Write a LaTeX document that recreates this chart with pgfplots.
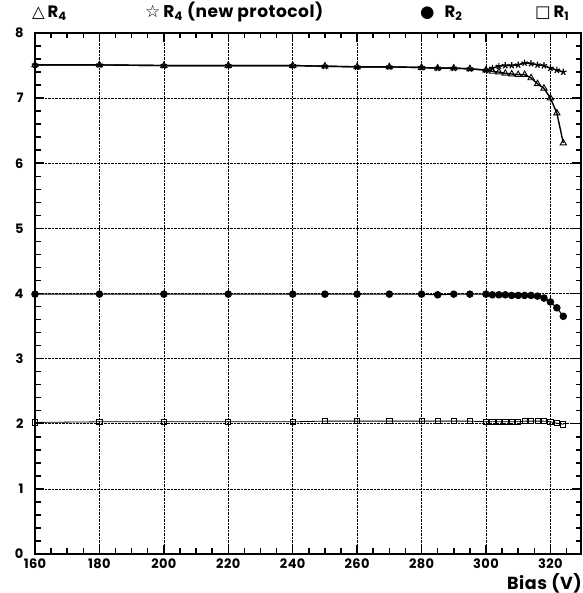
\documentclass[border=0pt]{standalone}
\usepackage{pgfplots}
\pgfplotsset{compat=1.18}
\usepackage{fontspec}
\setmainfont{Poppins}[LetterSpace=3]
\newfontfamily\symfont{DejaVu Sans}
\begin{document}
\begin{tikzpicture}
\useasboundingbox (0,0) rectangle (582pt,593pt);
\begin{axis}[
 at={(35pt,39pt)}, anchor=south west,
 scale only axis, width=546pt, height=521pt,
 xmin=160, xmax=329.5, ymin=0, ymax=8,
 xtick={160,180,...,320}, ytick={0,1,...,8},
 minor x tick num=3, minor y tick num=4,
 tick align=inside, xtick pos=both, ytick pos=both,
 xmajorgrids, ymajorgrids,
 major grid style={densely dotted, black, line width=0.6pt},
 axis line style={line width=1.2pt},
 major tick length=9pt, minor tick length=5.5pt,
 every tick/.append style={black, line width=1.5pt},
 tick label style={font=\bfseries\fontsize{13}{13}\selectfont},
 /pgf/number format/assume math mode=true,
 xticklabel style={yshift=-1pt},
 yticklabel style={xshift=-8pt},
 clip=false,
]
% tick marks (drawn explicitly as well)
\pgfplotsinvokeforeach{165,170,...,325}{
 \draw[black, line width=1.5pt] (axis cs:#1,0) -- ([yshift=5.5pt]axis cs:#1,0);
 \draw[black, line width=1.5pt] (axis cs:#1,8) -- ([yshift=-5.5pt]axis cs:#1,8);
}
\pgfplotsinvokeforeach{0.2,0.4,...,7.9}{
 \draw[black, line width=1.5pt] (axis cs:160,#1) -- ([xshift=5.5pt]axis cs:160,#1);
 \draw[black, line width=1.5pt] (axis cs:329.5,#1) -- ([xshift=-5.5pt]axis cs:329.5,#1);
}
% R1 open squares
\addplot[black, line width=0.8pt, mark=square, mark size=2.6pt, mark options={solid, line width=0.8pt}] coordinates {
(160,2.02) (180,2.03) (200,2.03) (220,2.03) (240,2.03) (250,2.04) (260,2.04) (270,2.04) (280,2.04) (285,2.04) (290,2.04) (295,2.04)
(300,2.03) (302,2.03) (304,2.03) (306,2.03) (308,2.03) (310,2.03) (312,2.04) (314,2.04) (316,2.04) (318,2.04) (320,2.03) (322,2.01) (324,1.99)};
% R2 filled circles
\addplot[black, line width=1.1pt, mark=*, mark size=3.2pt] coordinates {
(160,3.99) (180,3.99) (200,3.99) (220,3.99) (240,3.99) (250,3.99) (260,3.99) (270,3.99) (280,3.99) (285,3.98) (290,3.99) (295,3.99)
(300,3.99) (302,3.98) (304,3.98) (306,3.98) (308,3.97) (310,3.97) (312,3.97) (314,3.97) (316,3.96) (318,3.93) (320,3.87) (322,3.78) (324,3.65)};
% R4 open triangles
\addplot[black, line width=1.4pt, mark=triangle, mark size=3.6pt, mark options={solid, line width=0.9pt}] coordinates {
(160,7.51) (180,7.51) (200,7.50) (220,7.50) (240,7.50) (250,7.49) (260,7.48) (270,7.48) (280,7.47) (285,7.46) (290,7.46) (295,7.45)
(300,7.43) (302,7.41) (304,7.40) (306,7.38) (308,7.37) (310,7.36) (312,7.36) (314,7.31) (316,7.22) (318,7.15) (320,7.00) (322,6.77) (324,6.31)};
% R4 new protocol stars
\addplot[black, line width=1.4pt, mark=star, mark size=3.4pt, mark options={solid, line width=1.2pt}] coordinates {
(160,7.51) (180,7.51) (200,7.50) (220,7.50) (240,7.50) (250,7.49) (260,7.48) (270,7.48) (280,7.47) (285,7.46) (290,7.46) (295,7.45)
(300,7.43) (302,7.46) (304,7.49) (306,7.50) (308,7.50) (310,7.51) (312,7.54) (314,7.53) (316,7.51) (318,7.50) (320,7.46) (322,7.43) (324,7.40)};
\node[anchor=base west, inner sep=0pt, font=\bfseries\fontsize{16.5}{16.5}\selectfont] at ([xshift=-3pt,yshift=15pt]rel axis cs:0,1) {{\symfont △}\,R\textsubscript{4}};
\node[anchor=base west, inner sep=0pt, font=\bfseries\fontsize{17}{17}\selectfont] at ([xshift=110pt,yshift=15pt]rel axis cs:0,1) {{\symfont ☆}\,R\textsubscript{4} (new protocol)};
\node[anchor=base west, inner sep=0pt, font=\bfseries\fontsize{16.5}{16.5}\selectfont] at ([xshift=385pt,yshift=15pt]rel axis cs:0,1) {{\symfont ●}\hspace{0.6em}R\textsubscript{2}};
\node[anchor=base west, inner sep=0pt, font=\bfseries\fontsize{16.5}{16.5}\selectfont] at ([xshift=500pt,yshift=15pt]rel axis cs:0,1) {{\symfont □}\,R\textsubscript{1}};
\node[anchor=base east, inner sep=0pt, font=\bfseries\fontsize{17.5}{17.5}\selectfont] at ([xshift=1pt,yshift=-35pt]rel axis cs:1,0) {Bias (V)};
\end{axis}
\end{tikzpicture}
\end{document}
